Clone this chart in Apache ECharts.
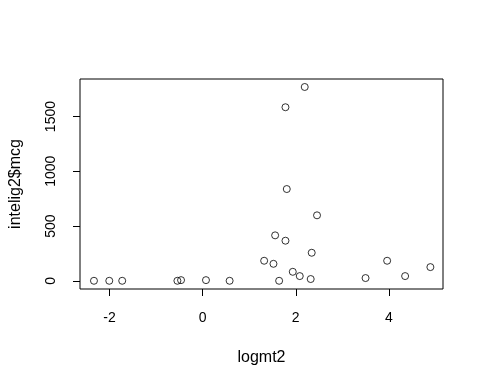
<!DOCTYPE html>
<html>
<head>
<meta charset="utf-8">
<script src="https://cdn.jsdelivr.net/npm/echarts@6/dist/echarts.min.js"></script>
<style>html,body{margin:0;padding:0;background:#fff}#c{width:485px;height:388px}</style>
</head>
<body>
<div id="c"></div>
<script>
const logmt2 = [-2.336, -2.007, -1.729, -0.543, -0.465, 0.071, 0.579, 1.321, 1.521, 1.557, 1.643, 1.779, 1.779, 1.807, 1.936, 2.086, 2.193, 2.321, 2.343, 2.457, 3.5, 3.964, 4.35, 4.893];
const mcg = [0, 0, 0, 0, 6, 6, 0, 183, 155, 415, 0, 1585, 366, 838, 82, 43, 1770, 16, 256, 598, 25, 183, 43, 125];
const xTicks = [-2, 0, 2, 4];
const yTicks = [0, 500, 1000, 1500];
const xTitle = 'logmt2';
const yTitle = 'intelig2$mcg';

const points = logmt2.map((x, i) => [x, mcg[i]]);
const font = 'Liberation Sans, Arial, sans-serif';
const chart = echarts.init(document.getElementById('c'), null, {renderer: 'canvas'});
chart.setOption({
  animation: false,
  backgroundColor: '#fff',
  grid: {left: 79, top: 79, width: 364, height: 210, show: true, borderColor: '#000', borderWidth: 1, backgroundColor: 'transparent'},
  xAxis: {
    type: 'value', min: -2.636, max: 5.164,
    axisLine: {show: false, onZero: false},
    splitLine: {show: false},
    axisTick: {show: true, length: 7, customValues: xTicks, lineStyle: {color: '#000'}},
    axisLabel: {customValues: xTicks, margin: 22, color: '#000', fontSize: 14, fontFamily: font, formatter: v => String(v)},
    name: xTitle, nameLocation: 'middle', nameGap: 61,
    nameTextStyle: {color: '#000', fontSize: 16, fontFamily: font}
  },
  yAxis: {
    type: 'value', min: -75, max: 1843,
    axisLine: {show: false, onZero: false},
    splitLine: {show: false},
    axisTick: {show: true, length: 7, customValues: yTicks, lineStyle: {color: '#000'}},
    axisLabel: {customValues: yTicks, margin: 22, rotate: 90, color: '#000', fontSize: 14, fontFamily: font, formatter: v => String(v)},
    name: yTitle, nameLocation: 'middle', nameGap: 56,
    nameTextStyle: {color: '#000', fontSize: 16, fontFamily: font}
  },
  series: [{
    type: 'scatter',
    data: points,
    symbol: 'circle',
    symbolSize: 7,
    itemStyle: {color: 'transparent', borderColor: '#000', borderWidth: 1},
    emphasis: {disabled: true}
  }]
});
</script>
</body>
</html>
